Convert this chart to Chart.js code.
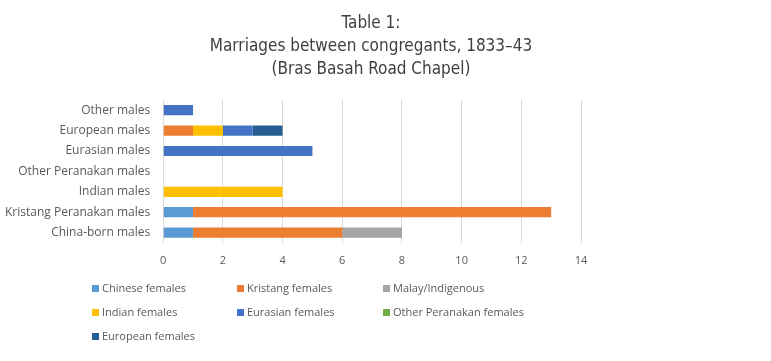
<!DOCTYPE html>
<html>
<head>
<meta charset="utf-8">
<script src="https://cdn.jsdelivr.net/npm/chart.js@4"></script>
<style>
  body { margin: 0; background: #fff; }
  #wrap { position: relative; width: 771px; height: 361px; }
  #title { position: absolute; left: 0; top: 11px; width: 742px; text-align: center;
    font: 17px/23px "DejaVu Sans Condensed", sans-serif; color: #404040; }
  #legend { position: absolute; left: 92px; top: 280px; display: grid;
    grid-template-columns: 145px 146px 160px; row-gap: 9px;
    font: 11px "Open Sans", sans-serif; color: #595959; }
  #legend span.box { display: inline-block; width: 7px; height: 7px; margin-right: 3px; vertical-align: 0px; }
</style>
</head>
<body>
<div id="wrap">
  <canvas id="myBarChart" width="771" height="361"></canvas>
  <div id="title"></div>
  <div id="legend"></div>
</div>
<script>
// Categories, top to bottom as they appear
var categories = ['Other males', 'European males', 'Eurasian males', 'Other Peranakan males',
  'Indian males', 'Kristang Peranakan males', 'China-born males'];

// Series values, one per category above
var chineseFemales = [0, 0, 0, 0, 0, 1, 1];
var kristangFemales = [0, 1, 0, 0, 0, 12, 5];
var malayIndigenous = [0, 0, 0, 0, 0, 0, 2];
var indianFemales = [0, 1, 0, 0, 4, 0, 0];
var eurasianFemales = [1, 1, 5, 0, 0, 0, 0];
var otherPeranakanFemales = [0, 0, 0, 0, 0, 0, 0];
var europeanFemales = [0, 1, 0, 0, 0, 0, 0];

var seriesNames = ['Chinese females', 'Kristang females', 'Malay/Indigenous', 'Indian females',
  'Eurasian females', 'Other Peranakan females', 'European females'];
var seriesValues = [chineseFemales, kristangFemales, malayIndigenous, indianFemales,
  eurasianFemales, otherPeranakanFemales, europeanFemales];
var seriesColors = ['#5B9BD5', '#ED7D31', '#A5A5A5', '#FFC000', '#4472C4', '#70AD47', '#255E91'];

var titleLines = ['Table 1:', 'Marriages between congregants, 1833\u201343', '(Bras Basah Road Chapel)'];

// Title as text above the canvas, centred like the original
document.getElementById('title').innerHTML = titleLines.join('<br>');

var ctx = document.getElementById('myBarChart').getContext('2d');

var myBarChart = new Chart(ctx, {
    type: 'bar',
    data: {
        labels: categories,
        datasets: seriesNames.map(function (name, i) {
            return {
                label: name,
                data: seriesValues[i],
                backgroundColor: seriesColors[i],
                borderWidth: 0,
                barPercentage: 0.5,
                categoryPercentage: 1
            };
        })
    },
    options: {
        indexAxis: 'y',
        responsive: false,
        animation: false,
        layout: {
            padding: { top: 100, left: 0, right: 190, bottom: 83 }
        },
        scales: {
            x: {
                stacked: true,
                min: 0,
                max: 14,
                ticks: { stepSize: 2, color: '#595959', font: { family: 'Open Sans', size: 11 }, padding: 11 },
                grid: { color: '#d9d9d9', drawTicks: false },
                border: { display: false }
            },
            y: {
                stacked: true,
                ticks: { color: '#595959', font: { family: 'Open Sans', size: 12 }, padding: 5 },
                grid: { display: false },
                border: { display: false }
            }
        },
        plugins: {
            legend: { display: false },
            tooltip: { enabled: false }
        }
    }
});

// Legend laid out in three columns, like the original
var legendEl = document.getElementById('legend');
seriesNames.forEach(function (name, i) {
    var item = document.createElement('div');
    item.innerHTML = '<span class="box" style="background:' + seriesColors[i] + '"></span>' + name;
    legendEl.appendChild(item);
});
</script>
</body>
</html>
